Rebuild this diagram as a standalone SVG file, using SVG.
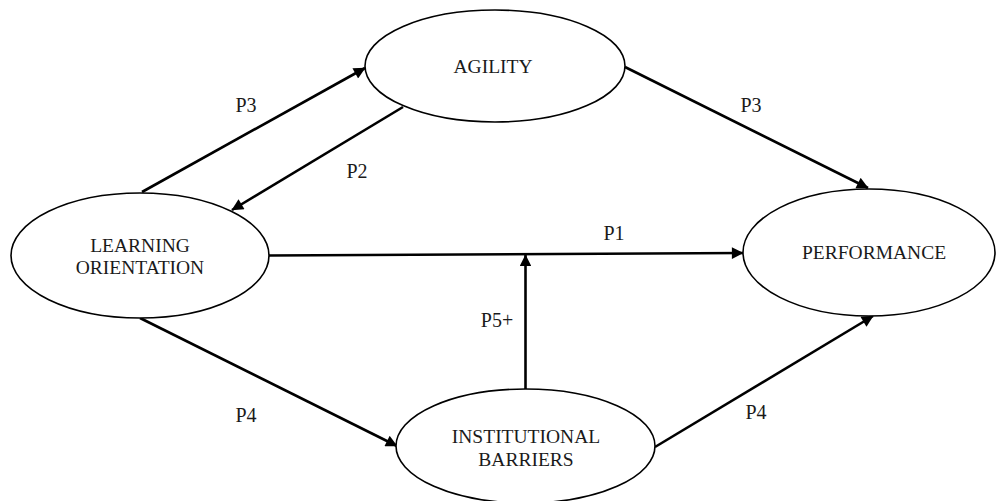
<svg xmlns="http://www.w3.org/2000/svg" width="996" height="501" viewBox="0 0 996 501" font-family="'Liberation Serif', 'Times New Roman', serif">
<style>
.node{fill:#fff;stroke:#000;stroke-width:1.6}
.lbl{font-family:"Liberation Serif","Times New Roman",serif;font-size:19.5px;fill:#1a1a1a;text-anchor:middle}
.edge{stroke:#000;stroke-width:2.6;fill:none;marker-end:url(#ah)}
.el{font-family:"Liberation Serif","Times New Roman",serif;font-size:20px;fill:#1a1a1a;text-anchor:middle}
</style>
<defs>
<marker id="ah" viewBox="0 0 10 10" refX="9.5" refY="5" markerWidth="5" markerHeight="4.5" orient="auto" markerUnits="strokeWidth">
<path d="M0,0 L10,5 L0,10 z" fill="#000"/>
</marker>
</defs>
<rect width="996" height="501" fill="#fff"/>
<g id="connectors">
<line class="edge" x1="142" y1="192" x2="365" y2="68"/>
<line class="edge" x1="403" y1="107" x2="232" y2="210"/>
<line class="edge" x1="625" y1="67" x2="868" y2="188"/>
<line class="edge" x1="269" y1="255.5" x2="743" y2="253"/>
<line class="edge" x1="140" y1="318" x2="397" y2="446"/>
<line class="edge" x1="655" y1="447" x2="873" y2="316"/>
<line class="edge" x1="525.5" y1="389" x2="525.5" y2="255"/>
<text class="el" x="246" y="112">P3</text>
<text class="el" x="357" y="178">P2</text>
<text class="el" x="751" y="112">P3</text>
<text class="el" x="614" y="240">P1</text>
<text class="el" x="246" y="422">P4</text>
<text class="el" x="756" y="419">P4</text>
<text class="el" x="497" y="327">P5+</text>
</g>
<g id="agility">
<ellipse class="node" cx="495" cy="66" rx="130" ry="56"/>
<text class="lbl" x="493" y="73">AGILITY</text>
</g>
<g id="learning-orientation">
<ellipse class="node" cx="140" cy="255.5" rx="129" ry="62.5"/>
<text class="lbl" x="140" y="252">LEARNING</text>
<text class="lbl" x="140" y="274">ORIENTATION</text>
</g>
<g id="performance">
<ellipse class="node" cx="869" cy="252.5" rx="126" ry="63.5"/>
<text class="lbl" x="874" y="259">PERFORMANCE</text>
</g>
<g id="institutional-barriers">
<ellipse class="node" cx="525.5" cy="446" rx="129.5" ry="57"/>
<text class="lbl" x="526" y="443">INSTITUTIONAL</text>
<text class="lbl" x="526" y="466">BARRIERS</text>
</g>
</svg>
